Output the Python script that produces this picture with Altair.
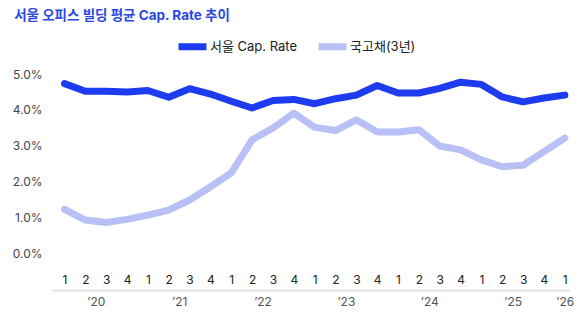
import json
import altair as alt
import pandas as pd

# ---- data ----
periods = ["2020Q1", "2020Q2", "2020Q3", "2020Q4",
           "2021Q1", "2021Q2", "2021Q3", "2021Q4",
           "2022Q1", "2022Q2", "2022Q3", "2022Q4",
           "2023Q1", "2023Q2", "2023Q3", "2023Q4",
           "2024Q1", "2024Q2", "2024Q3", "2024Q4",
           "2025Q1", "2025Q2", "2025Q3", "2025Q4",
           "2026Q1"]
quarter_labels = ["1", "2", "3", "4", "1", "2", "3", "4", "1", "2", "3", "4",
                  "1", "2", "3", "4", "1", "2", "3", "4", "1", "2", "3", "4", "1"]
year_labels = ["’20", "’21", "’22", "’23", "’24", "’25", "’26"]
quarters_per_year = [4, 4, 4, 4, 4, 4, 1]

series_names = ["서울 Cap. Rate", "국고채(3년)"]
seoul_cap_rate = [4.73, 4.52, 4.52, 4.50, 4.54, 4.35, 4.59, 4.44,
                  4.24, 4.05, 4.26, 4.29, 4.17, 4.31, 4.41, 4.68,
                  4.47, 4.47, 4.60, 4.77, 4.71, 4.36, 4.22, 4.33, 4.41]
treasury_3y = [1.22, 0.92, 0.85, 0.94, 1.06, 1.20, 1.48, 1.85,
               2.24, 3.16, 3.49, 3.91, 3.51, 3.42, 3.72, 3.38,
               3.38, 3.44, 2.99, 2.88, 2.60, 2.41, 2.45, 2.83, 3.21]

rows = []
for i, p in enumerate(periods):
    rows.append({"idx": i, "period": p, "series": series_names[0], "value": seoul_cap_rate[i]})
    rows.append({"idx": i, "period": p, "series": series_names[1], "value": treasury_3y[i]})
df = pd.DataFrame(rows)

# year label positions: centre of each year's quarters
year_pos = []
start = 0
for n in quarters_per_year:
    year_pos.append(start + (n - 1) / 2)
    start += n

FONT = "Inter, Noto Sans CJK KR, sans-serif"
DARK = "#1d3cef"
LIGHT = "#b8c0f6"

xscale = alt.Scale(domain=[-0.6, 24.25], nice=False, zero=False)
yscale = alt.Scale(domain=[0, 5], nice=False)

q_axis = alt.Axis(
    orient="bottom", values=list(range(len(periods))), title=None,
    labelExpr=json.dumps(quarter_labels) + "[datum.value]",
    domain=False, ticks=False, tickSize=0, grid=False,
    labelPadding=21, labelFontSize=12, labelColor="#222", labelFont=FONT,
    labelFlush=False, labelOverlap=False,
)
y_axis = alt.Axis(
    values=[0, 1, 2, 3, 4, 5], title=None,
    labelExpr="format(datum.value, '.1f') + '%'",
    domain=False, ticks=False, grid=False,
    labelPadding=10, labelFontSize=12, labelColor="#444", labelFont=FONT,
)
yr_axis = alt.Axis(
    orient="bottom", values=year_pos, title=None, offset=37,
    labelExpr=json.dumps(year_labels) + "[indexof(" + json.dumps(year_pos) + ", datum.value)]",
    domain=True, domainColor="#dfe1e8", domainWidth=2,
    ticks=False, tickSize=0, grid=False,
    labelPadding=6, labelFontSize=12, labelColor="#555", labelFont=FONT,
    labelFlush=False, labelOverlap=False,
)

lines = alt.Chart(df).mark_line(strokeWidth=7, strokeCap="round", strokeJoin="round").encode(
    x=alt.X("idx:Q", scale=xscale, axis=q_axis),
    y=alt.Y("value:Q", scale=yscale, axis=y_axis),
    color=alt.Color(
        "series:N",
        scale=alt.Scale(domain=series_names, range=[DARK, LIGHT]),
        legend=alt.Legend(
            orient="none", legendX=123, legendY=-45, direction="horizontal",
            title=None, symbolType="stroke", symbolStrokeWidth=7, symbolSize=784,
            labelFontSize=13, labelColor="#222", labelFont=FONT,
            labelOffset=0, columnPadding=6,
        ),
    ),
    order=alt.Order("idx:Q"),
)

years = alt.Chart(df).mark_point(opacity=0).encode(
    x=alt.X("idx:Q", scale=xscale, axis=yr_axis),
    y=alt.Y("value:Q", scale=yscale, axis=y_axis),
)

chart = alt.layer(lines, years).resolve_axis(x="independent").properties(
    width=518, height=179,
    padding={"left": 12, "top": 9, "right": 5, "bottom": 5},
    title=alt.TitleParams(
        "서울 오피스 빌딩 평균 Cap. Rate 추이", anchor="start",
        fontSize=13.5, fontWeight="bold", color="#2b48e3", font=FONT, offset=6.5,
        dx=2,
    ),
).configure_view(stroke=None)

chart.save("out.html", embed_options={"renderer": "svg", "actions": False})
